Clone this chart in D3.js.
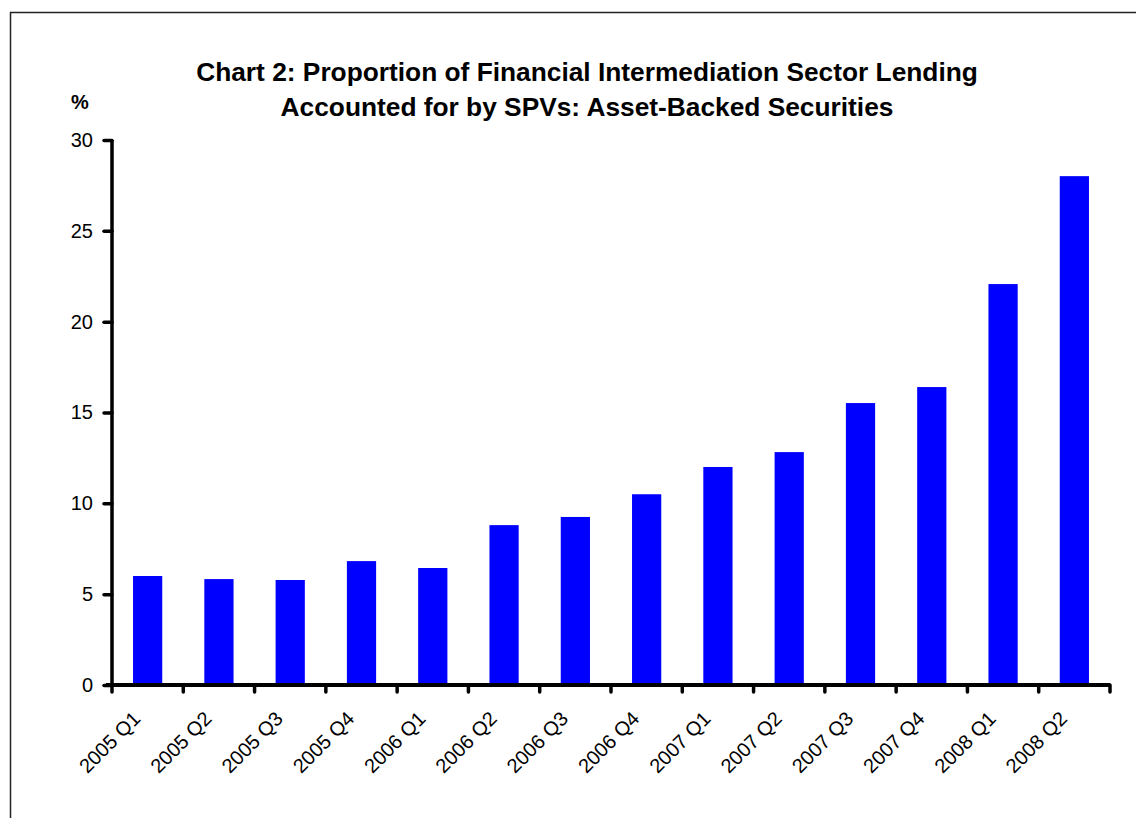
<!DOCTYPE html>
<html><head><meta charset="utf-8">
<script src="https://cdn.jsdelivr.net/npm/d3@7/dist/d3.min.js"></script>
<style>body{margin:0;background:#fff;} svg{display:block;font-family:"Liberation Sans",Arial,sans-serif;}</style>
</head><body><svg id="c" width="1136" height="818"></svg>
<script>
const categories = ["2005 Q1","2005 Q2","2005 Q3","2005 Q4","2006 Q1","2006 Q2","2006 Q3","2006 Q4","2007 Q1","2007 Q2","2007 Q3","2007 Q4","2008 Q1","2008 Q2"];
const values = [6.0, 5.83, 5.78, 6.82, 6.44, 8.8, 9.25, 10.5, 12.0, 12.82, 15.52, 16.4, 22.07, 28.01];
const yTicks = [0,5,10,15,20,25,30];
const titleLines = ["Chart 2: Proportion of Financial Intermediation Sector Lending","Accounted for by SPVs: Asset-Backed Securities"];

const svg = d3.select("#c");
svg.append("rect").attr("x",10.5).attr("y",12.5).attr("width",1200).attr("height",900)
  .attr("fill","none").attr("stroke","#222").attr("stroke-width",1.5);

const pL=112, pR=1110, pT=140, pB=685;
const x = d3.scaleBand().domain(categories).range([pL,pR]).paddingInner(0.59).paddingOuter(0.295);
const xb = d3.scaleBand().domain(categories).range([pL,pR]);
const y = d3.scaleLinear().domain([0,30]).range([pB,pT]);

svg.append("g").selectAll("rect").data(values).join("rect")
  .attr("x",(d,i)=>x(categories[i])).attr("width",x.bandwidth())
  .attr("y",d=>y(d)).attr("height",d=>y(0)-y(d)).attr("fill","#0000ff");

// y axis
const ya = svg.append("g").attr("transform",`translate(${pL},0)`)
  .call(d3.axisLeft(y).tickValues(yTicks).tickSize(8).tickPadding(11));
ya.select(".domain").attr("stroke","#000").attr("stroke-width",3.5).attr("d",`M0,${pT}V${pB}`);
ya.selectAll(".tick line").attr("stroke","#000").attr("stroke-width",3.5).attr("stroke-linecap","round").attr("x2",-8);
ya.selectAll(".tick text").attr("font-size",20).attr("fill","#000").attr("font-family","Liberation Sans, Arial, sans-serif");

// x axis
const xa = svg.append("g").attr("transform",`translate(0,${pB})`);
xa.append("line").attr("x1",pL-6).attr("x2",pR).attr("y1",0).attr("y2",0).attr("stroke","#000").attr("stroke-width",4);
const bounds = categories.map(c=>xb(c)).concat([pR]);
xa.selectAll("line.t").data(bounds).join("line").attr("class","t")
  .attr("x1",d=>d).attr("x2",d=>d).attr("y1",0).attr("y2",7)
  .attr("stroke","#000").attr("stroke-width",3.5).attr("stroke-linecap","round");
xa.selectAll("text").data(categories).join("text")
  .attr("transform",d=>`translate(${xb(d)+xb.bandwidth()/2-6},${35}) rotate(-45)`)
  .attr("text-anchor","end").attr("font-size",20).attr("fill","#000").text(d=>d);

// title
svg.append("g").selectAll("text").data(titleLines).join("text")
  .attr("x",587).attr("y",(d,i)=>81+i*35).attr("text-anchor","middle")
  .attr("font-size",26.3).attr("font-weight","bold").text(d=>d);
svg.append("text").attr("x",71).attr("y",109).attr("font-size",20).attr("font-weight","bold").text("%");
</script></body></html>
